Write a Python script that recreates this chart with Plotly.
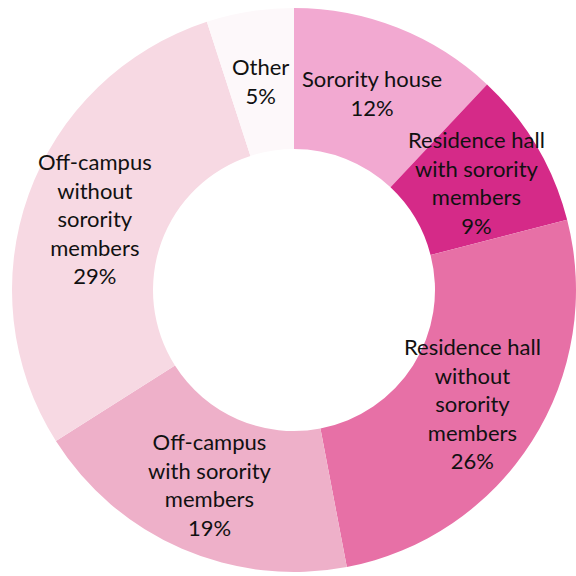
import math
import plotly.graph_objects as go

labels = ["Sorority house", "Residence hall with sorority members",
          "Residence hall without sorority members", "Off-campus with sorority members",
          "Off-campus without sorority members", "Other"]
label_lines = ["Sorority house", "Residence hall<br>with sorority<br>members",
               "Residence hall<br>without<br>sorority<br>members", "Off-campus<br>with sorority<br>members",
               "Off-campus<br>without<br>sorority<br>members", "Other"]
values = [12, 9, 26, 19, 29, 5]
colors = ["#F2A9D1", "#D52A88", "#E770A6", "#EEB0C9", "#F7D9E3", "#FDF8FA"]

W = H = 576
dom_x = [12 / W, 1.0]
dom_y = [0.0, 1 - 4 / H]
R = min((dom_x[1] - dom_x[0]) * W, (dom_y[1] - dom_y[0]) * H) / 2
cx = (dom_x[0] + dom_x[1]) / 2 * W
cy = (1 - (dom_y[0] + dom_y[1]) / 2) * H  # from top

fig = go.Figure(go.Pie(
    labels=labels, values=values, sort=False, direction="clockwise", rotation=0,
    hole=0.5, marker=dict(colors=colors, line=dict(width=0)),
    textinfo="none", hoverinfo="label+percent", showlegend=False,
    domain=dict(x=dom_x, y=dom_y),
))

total = sum(values)
cum = 0
annotations = []
for lab, v in zip(label_lines, values):
    mid = (cum + v / 2) / total * 2 * math.pi
    cum += v
    r = 0.75 * R
    px = cx + r * math.sin(mid)
    py = cy - r * math.cos(mid)
    annotations.append(dict(
        x=px / W, y=1 - py / H, xref="paper", yref="paper",
        text=f"{lab}<br>{round(v / total * 100)}%", showarrow=False,
        font=dict(family="Lato", size=22, color="#111111"), align="center",
        xanchor="center", yanchor="middle",
    ))

fig.update_layout(width=W, height=H, margin=dict(l=0, r=0, t=0, b=0),
                  paper_bgcolor="white", plot_bgcolor="white", annotations=annotations)
fig.write_html("out.html")
